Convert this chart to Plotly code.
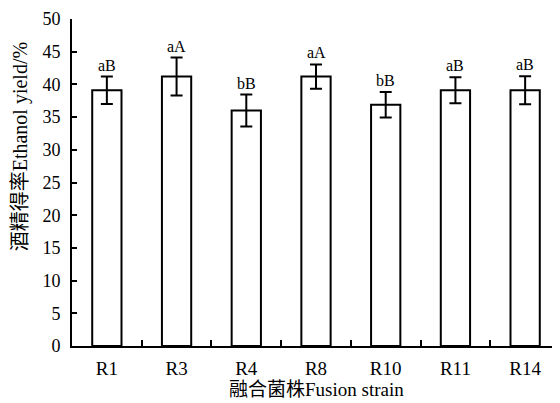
import plotly.graph_objects as go

strains = ["R1", "R3", "R4", "R8", "R10", "R11", "R14"]
yield_pct = [39.1, 41.2, 36.0, 41.2, 36.9, 39.1, 39.1]
err = [2.1, 2.9, 2.45, 1.85, 1.95, 2.0, 2.15]
sig = ["aB", "aA", "bB", "aA", "bB", "aB", "aB"]
y_ticks = [0, 5, 10, 15, 20, 25, 30, 35, 40, 45, 50]

FONT = "Liberation Serif, Times New Roman, Noto Sans CJK SC, serif"

fig = go.Figure()
fig.add_trace(go.Bar(
    x=strains, y=yield_pct, width=0.42,
    marker=dict(color="white", line=dict(color="black", width=2)),
    error_y=dict(type="data", array=err, visible=True, color="black", thickness=2, width=6),
    showlegend=False,
))

for s, v, e, t in zip(strains, yield_pct, err, sig):
    fig.add_annotation(x=s, y=v + e, text=t, showarrow=False, yanchor="bottom", yshift=1,
                       font=dict(family=FONT, size=16, color="black"))

fig.add_annotation(xref="paper", yref="paper", x=0.5, y=-0.134, xanchor="center", yanchor="middle",
                   text="融合菌株Fusion strain", showarrow=False,
                   font=dict(family=FONT, size=19, color="black"))
fig.add_annotation(xref="paper", yref="paper", x=-0.105, y=0.61, xanchor="center", yanchor="middle",
                   text="酒精得率Ethanol yield/%", textangle=-90, showarrow=False,
                   font=dict(family=FONT, size=20, color="black"))

# page body has an 8px default margin, so the figure is sized to fit the 560x403 window
fig.update_layout(
    width=552, height=395,
    margin=dict(l=64, r=0, t=11, b=57, autoexpand=False),
    plot_bgcolor="white", paper_bgcolor="white",
    font=dict(family=FONT, size=19, color="black"),
    bargap=0.58,
)
fig.update_xaxes(
    type="category", showline=True, linecolor="black", linewidth=2,
    ticks="inside", tickson="boundaries", ticklen=6, tickwidth=2, tickcolor="black",
    showgrid=False, zeroline=False, ticklabelstandoff=4, automargin=False,
    ticklabeloverflow="allow",
    tickfont=dict(family=FONT, size=19),
)
fig.update_yaxes(
    range=[0, 50], tickvals=y_ticks, showline=True, linecolor="black", linewidth=2,
    ticks="inside", ticklen=5, tickwidth=2, tickcolor="black",
    showgrid=False, zeroline=False, ticklabelstandoff=6, automargin=False,
    ticklabeloverflow="allow",
    tickfont=dict(family=FONT, size=18),
)

fig.write_html("out.html")
